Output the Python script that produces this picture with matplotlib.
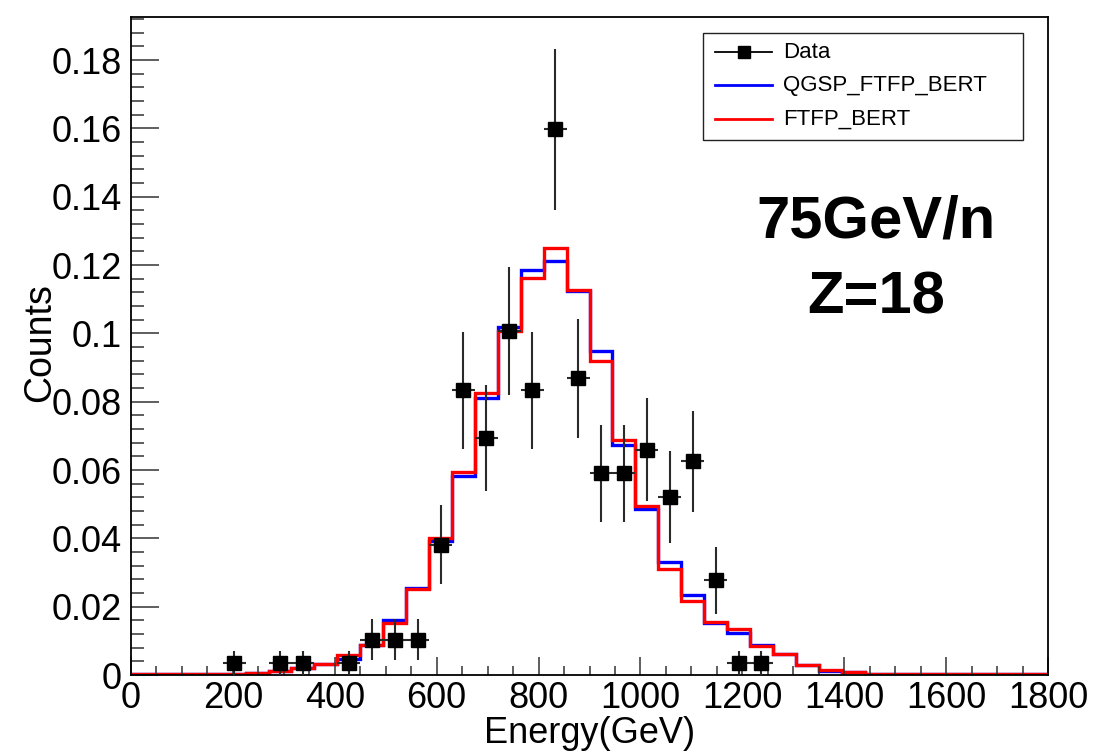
import matplotlib
matplotlib.use("Agg")
from matplotlib import pyplot as plt
from matplotlib.lines import Line2D
from matplotlib.patches import Rectangle
from matplotlib.ticker import MultipleLocator
import numpy as np

plt.rcParams['font.family'] = ['Liberation Sans', 'DejaVu Sans']

# bin edges: 40 bins of 45 GeV from 0 to 1800
edges = np.arange(0, 1801, 45)

# data points (bin centres, normalised counts, stat errors)
data_x = [202.5, 292.5, 337.5, 427.5, 472.5, 517.5, 562.5, 607.5, 652.5, 697.5,
          742.5, 787.5, 832.5, 877.5, 922.5, 967.5, 1012.5, 1057.5, 1102.5,
          1147.5, 1192.5, 1237.5]
data_y = [0.0035, 0.0035, 0.0035, 0.0035, 0.0104, 0.0104, 0.0104, 0.0382, 0.0833,
          0.0694, 0.1007, 0.0833, 0.1597, 0.0868, 0.0590, 0.0590, 0.0660, 0.0521,
          0.0625, 0.0278, 0.0035, 0.0035]
data_err = [0.0035, 0.0035, 0.0035, 0.0035, 0.0060, 0.0060, 0.0060, 0.0115, 0.0170,
            0.0155, 0.0187, 0.0170, 0.0235, 0.0174, 0.0143, 0.0143, 0.0151, 0.0134,
            0.0147, 0.0098, 0.0035, 0.0035]

# simulation histograms
qgsp = [0.0002, 0.0002, 0.0002, 0.0003, 0.0004, 0.0007, 0.0013, 0.0021, 0.0031, 0.0046,
        0.0088, 0.0160, 0.0255, 0.0393, 0.0584, 0.0810, 0.1018, 0.1186, 0.1213, 0.1123,
        0.0948, 0.0673, 0.0487, 0.0331, 0.0235, 0.0151, 0.0123, 0.0089, 0.0061, 0.0030,
        0.0011, 0.0008, 0.0004, 0.0003, 0.0002, 0.0002, 0.0002, 0.0002, 0.0002, 0.0002]
ftfp = [0.0002, 0.0002, 0.0002, 0.0003, 0.0004, 0.0007, 0.0013, 0.0021, 0.0031, 0.0058,
        0.0088, 0.0152, 0.0252, 0.0400, 0.0594, 0.0826, 0.1008, 0.1162, 0.1250, 0.1126,
        0.0920, 0.0688, 0.0495, 0.0310, 0.0217, 0.0154, 0.0134, 0.0086, 0.0061, 0.0030,
        0.0016, 0.0008, 0.0004, 0.0003, 0.0002, 0.0002, 0.0002, 0.0002, 0.0002, 0.0002]

fig = plt.figure(figsize=(11.02, 7.56), dpi=100)
ax = fig.add_axes([0.1189, 0.1071, 0.8321, 0.8704])

ax.stairs(qgsp, edges, baseline=None, color='#0000ff', lw=2.4)
ax.stairs(ftfp, edges, baseline=None, color='#ff0000', lw=2.4)
ax.errorbar(data_x, data_y, yerr=data_err, xerr=22.5, fmt='s', color='black',
            ecolor='#2a2a2a', elinewidth=1.5, ms=9.5, capsize=0, zorder=5)

ax.set_xlim(0, 1800)
ax.set_ylim(0, 0.1926)
ax.xaxis.set_major_locator(MultipleLocator(200))
ax.xaxis.set_minor_locator(MultipleLocator(50))
ax.yaxis.set_major_locator(MultipleLocator(0.02))
ax.yaxis.set_minor_locator(MultipleLocator(0.004))
ax.yaxis.set_major_formatter(matplotlib.ticker.FuncFormatter(
    lambda v, p: '0' if abs(v) < 1e-9 else ('%g' % round(v, 3))))

ax.tick_params(which='both', direction='in', top=False, right=False,
               labelsize=26, width=1.1, color='#333333')
ax.tick_params(axis='x', which='major', length=13, pad=4.5)
ax.tick_params(axis='x', which='minor', length=6.5)
ax.tick_params(axis='y', which='major', length=20, pad=6.5)
ax.tick_params(axis='y', which='minor', length=9.5)
for s in ax.spines.values():
    s.set_linewidth(1.3)

ax.set_xlabel('Energy(GeV)', fontsize=26)
ax.xaxis.set_label_coords(0.5, -0.0895)
ax.xaxis.label.set_va('center')
ax.set_ylabel('Counts', fontsize=27)
ax.yaxis.set_label_coords(-0.0992, 0.506)
ax.yaxis.label.set_va('center')

ax.text(0.8124, 0.688, '75GeV/n', transform=ax.transAxes, fontsize=43,
        fontweight='bold', ha='center', va='center')
ax.text(0.8124, 0.573, 'Z=18', transform=ax.transAxes, fontsize=43,
        fontweight='bold', ha='center', va='center')

# legend box, drawn by hand in figure pixels (from top-left)
W, H = 1102.0, 756.0
def fx(px):
    return px / W
def fy(py):
    return 1 - py / H

fig.add_artist(Rectangle((fx(703), fy(140)), fx(1023) - fx(703), fy(33) - fy(140),
                         transform=fig.transFigure, facecolor='white',
                         edgecolor='#222222', lw=1.0, zorder=10))
entries = [('Data', 'black', 52), ('QGSP_FTFP_BERT', '#0000ff', 85), ('FTFP_BERT', '#ff0000', 119)]
for name, col, py in entries:
    fig.add_artist(Line2D([fx(715), fx(772)], [fy(py), fy(py)], transform=fig.transFigure,
                          color=col, lw=1.3 if name == 'Data' else 2.0, zorder=11))
    if name == 'Data':
        fig.add_artist(Line2D([fx(743.5)], [fy(py)], transform=fig.transFigure, marker='s',
                              ms=8, color='black', zorder=12))
    fig.text(fx(783), fy(py), name, fontsize=16, va='center', ha='left', zorder=12)

fig.savefig('out.png', dpi=100)
